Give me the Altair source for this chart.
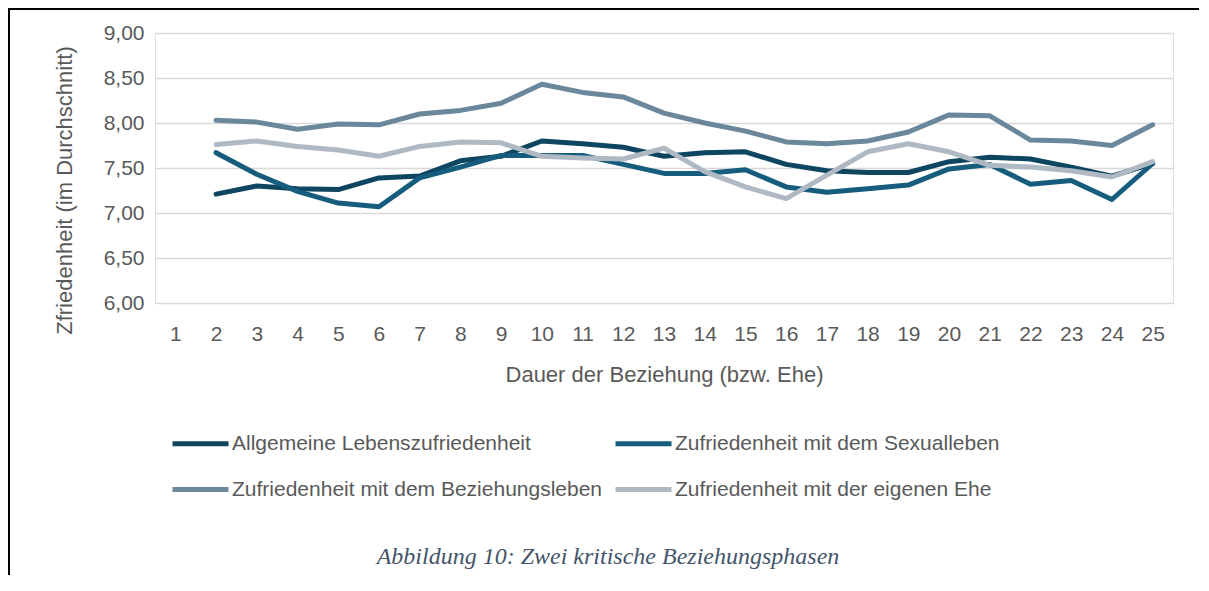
import altair as alt
import pandas as pd

# Kategorien (Dauer der Beziehung in Jahren)
x_domain = [1, 2, 3, 4, 5, 6, 7, 8, 9, 10, 11, 12, 13, 14, 15, 16, 17, 18, 19, 20, 21, 22, 23, 24, 25]
jahre = [2, 3, 4, 5, 6, 7, 8, 9, 10, 11, 12, 13, 14, 15, 16, 17, 18, 19, 20, 21, 22, 23, 24, 25]

allgemein = [7.21, 7.30, 7.27, 7.26, 7.39, 7.41, 7.58, 7.63, 7.80, 7.77, 7.73, 7.63,
             7.67, 7.68, 7.54, 7.47, 7.45, 7.45, 7.57, 7.62, 7.60, 7.51, 7.41, 7.55]
sexual = [7.67, 7.43, 7.24, 7.11, 7.07, 7.39, 7.51, 7.64, 7.64, 7.64, 7.54, 7.44,
          7.44, 7.48, 7.29, 7.23, 7.27, 7.31, 7.49, 7.54, 7.32, 7.36, 7.15, 7.55]
beziehung = [8.03, 8.01, 7.93, 7.99, 7.98, 8.10, 8.14, 8.22, 8.43, 8.34, 8.29, 8.11,
             8.00, 7.91, 7.79, 7.77, 7.80, 7.90, 8.09, 8.08, 7.81, 7.80, 7.75, 7.98]
ehe = [7.76, 7.80, 7.74, 7.70, 7.63, 7.74, 7.79, 7.78, 7.63, 7.61, 7.60, 7.72,
       7.46, 7.29, 7.16, 7.42, 7.68, 7.77, 7.68, 7.53, 7.51, 7.47, 7.40, 7.57]

serien = ["Allgemeine Lebenszufriedenheit", "Zufriedenheit mit dem Sexualleben",
          "Zufriedenheit mit dem Beziehungsleben", "Zufriedenheit mit der eigenen Ehe"]
farben = ["#0E4560", "#155C7D", "#6A879C", "#AFB9C4"]
y_ticks = [6.0, 6.5, 7.0, 7.5, 8.0, 8.5, 9.0]
caption = "Abbildung 10: Zwei kritische Beziehungsphasen"

rows = []
for name, vals in zip(serien, [allgemein, sexual, beziehung, ehe]):
    for j, v in zip(jahre, vals):
        rows.append({"Dauer": j, "Wert": v, "Serie": name})
df = pd.DataFrame(rows)

FONT = "Liberation Sans"
GREY = "#595959"

W, H = 1018, 270
PAD_L, PAD_T, PAD_R, PAD_B = 147, 25, 28, 272
TOTAL_W = PAD_L + W + PAD_R
TOTAL_H = PAD_T + H + PAD_B

lines = alt.Chart(df).mark_line(strokeWidth=5, strokeCap="round", strokeJoin="round").encode(
    x=alt.X("Dauer:O", scale=alt.Scale(domain=x_domain, type="point", padding=0.5),
            axis=alt.Axis(title="Dauer der Beziehung (bzw. Ehe)", labelAngle=0, labelFontSize=21,
                          labelFont=FONT, labelColor=GREY, labelPadding=20, ticks=False, domain=False,
                          titleFont=FONT, titleFontSize=22, titleColor=GREY, titleFontWeight="normal",
                          titleY=71, titleBaseline="middle", grid=False)),
    y=alt.Y("Wert:Q", scale=alt.Scale(domain=[6, 9], nice=False, zero=False),
            axis=alt.Axis(values=y_ticks, title="Zfriedenheit (im Durchschnitt)",
                          labelExpr="replace(format(datum.value, '.2f'), '.', ',')",
                          labelFontSize=21, labelFont=FONT, labelColor=GREY, labelPadding=11,
                          ticks=False, domain=False, gridColor="#D9D9D9", gridWidth=1.5,
                          titleFont=FONT, titleFontSize=22, titleColor=GREY, titleFontWeight="normal",
                          titleX=-91, titleY=157, titleAngle=270, titleAlign="center",
                          titleBaseline="middle")),
    color=alt.Color("Serie:N", scale=alt.Scale(domain=serien, range=farben),
                    legend=alt.Legend(orient="none", legendX=15, legendY=380, columns=2,
                                      direction="horizontal", title=None,
                                      symbolType="stroke", symbolSize=3136, symbolStrokeWidth=5,
                                      labelFontSize=21, labelFont=FONT, labelColor=GREY, labelLimit=0,
                                      columnPadding=2, rowPadding=5, labelOffset=1, padding=0)),
    order=alt.Order("Serie:N"),
)

frame_left = alt.Chart(pd.DataFrame({"a": [0]})).mark_rule(color="black", strokeWidth=2).encode(
    x=alt.value(-PAD_L + 1), y=alt.value(-PAD_T), y2=alt.value(TOTAL_H - PAD_T))
frame_top = alt.Chart(pd.DataFrame({"a": [0]})).mark_rule(color="black", strokeWidth=2).encode(
    x=alt.value(-PAD_L), x2=alt.value(TOTAL_W - PAD_L - 2), y=alt.value(-PAD_T + 1))

cap = alt.Chart(pd.DataFrame({"t": [caption]})).mark_text(
    font="Liberation Serif", fontStyle="italic", fontSize=24, color="#44546A",
    align="center", baseline="middle").encode(
    text="t:N", x=alt.value(453), y=alt.value(524))

chart = alt.layer(lines, frame_left, frame_top, cap).properties(
    width=W, height=H,
    autosize=alt.AutoSizeParams(type="none"),
    padding={"left": PAD_L, "top": PAD_T, "right": PAD_R, "bottom": PAD_B},
).configure_view(stroke=None).configure(background="white")

chart.save("out.html", embed_options={"renderer": "svg", "actions": False})
